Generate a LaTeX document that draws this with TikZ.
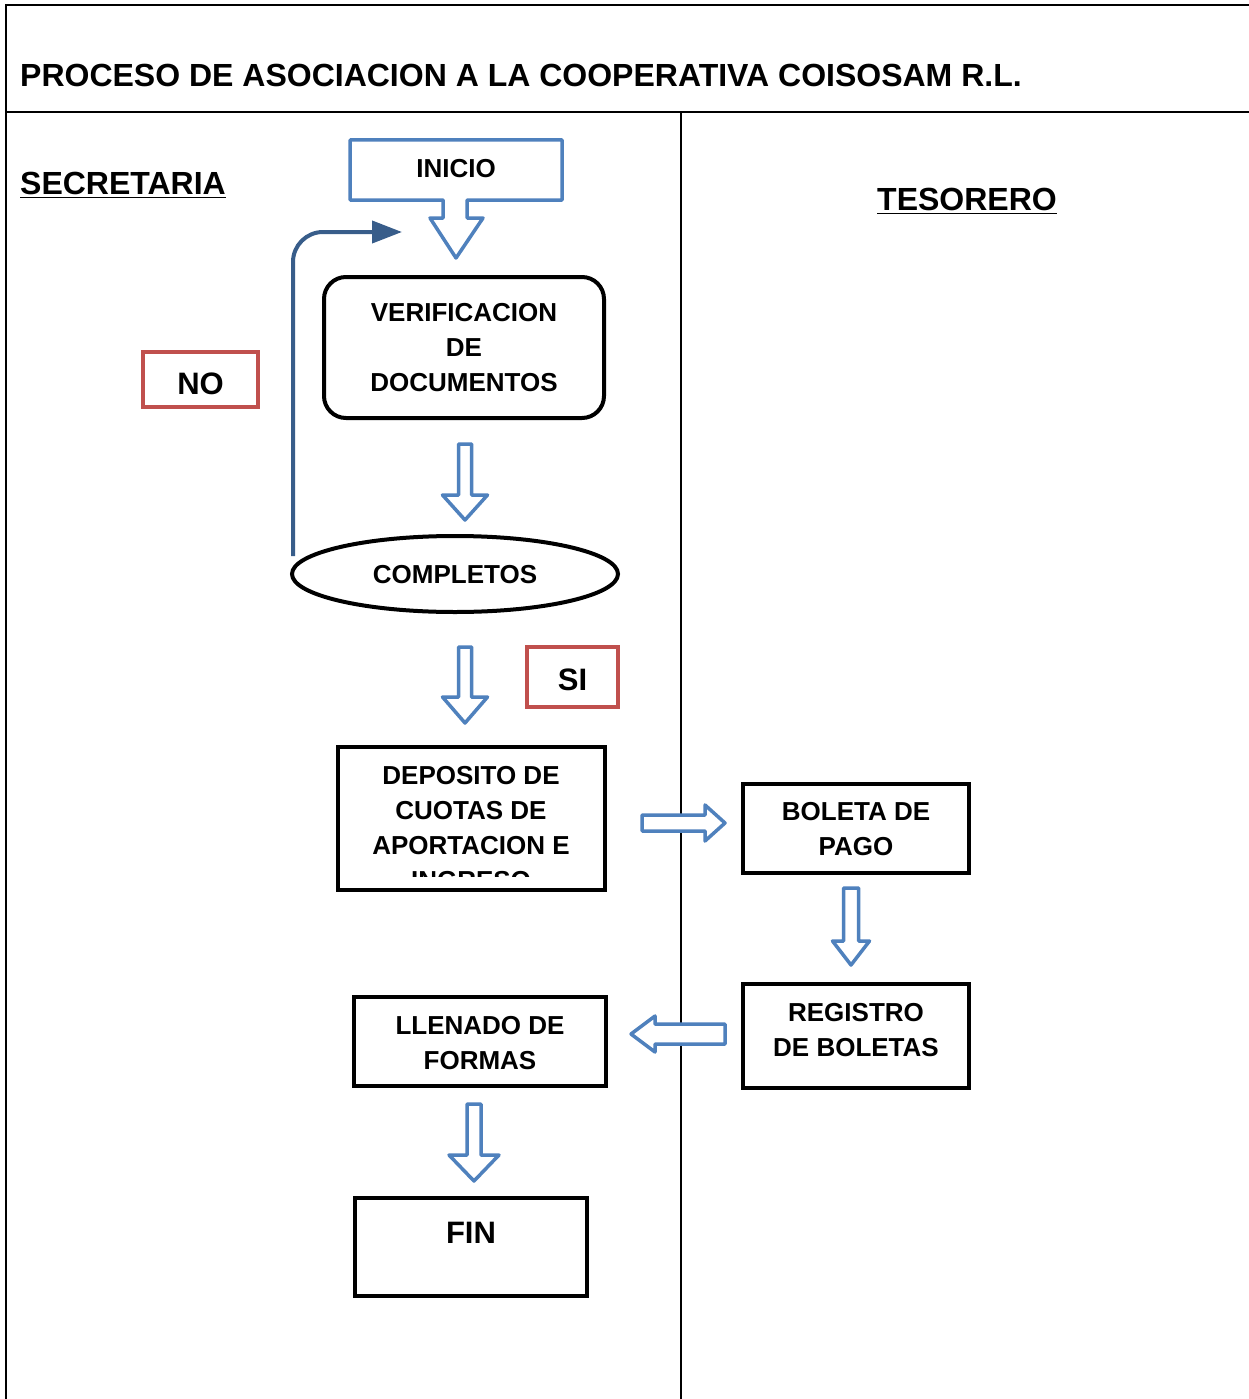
\documentclass[tikz,border=0pt]{standalone}
\usepackage{fontspec}
\setmainfont{Liberation Sans}
\usetikzlibrary{arrows.meta,shapes.geometric}
\definecolor{ablue}{HTML}{4F81BD}
\definecolor{dblue}{HTML}{385D8A}
\definecolor{lred}{HTML}{C0504D}
\newcommand{\bfont}{\fontsize{26}{35}\selectfont\bfseries}
\newcommand{\hfont}{\fontsize{32}{38}\selectfont\bfseries}
% hollow down block arrow: x, ytop, yheadstart, ytip, stemhalf, headhalf
\newcommand{\blkdown}[6]{%
  \draw[hollow] (#1-#5,#2) -- (#1+#5,#2) -- (#1+#5,#3) -- (#1+#6,#3) -- (#1,#4)
    -- (#1-#6,#3) -- (#1-#5,#3) -- cycle;}
% hollow horizontal block arrow: y, xtail, xheadstart, xtip, stemhalf, headhalf
\newcommand{\blkhor}[6]{%
  \draw[hollow] (#2,#1-#5) -- (#3,#1-#5) -- (#3,#1-#6) -- (#4,#1) -- (#3,#1+#6)
    -- (#3,#1+#5) -- (#2,#1+#5) -- cycle;}
\begin{document}
\begin{tikzpicture}[x=1pt,y=-1pt,
  hollow/.style={draw=ablue,fill=white,line width=3.5pt,line join=round},
  bbox/.style={draw=black,line width=4pt,inner sep=0pt},
  rbox/.style={draw=lred,line width=3.5pt,inner sep=0pt},
  lbl/.style={font=\bfont,align=center,inner sep=0pt},
  frame/.style={line width=2pt}]
\useasboundingbox (0,0) rectangle (1249,1399);
\fill[white] (0,0) rectangle (1249,1399);
% frame
\draw[frame] (1249,5) -- (6,5) -- (6,1399);
\draw[frame] (6,112) -- (1249,112);
\draw[frame] (681,112) -- (681,1399);
\node[anchor=base west,inner sep=0pt,font=\hfont] (title) at (20,87)
  {PROCESO DE ASOCIACION A LA COOPERATIVA COISOSAM R.L.};
\node[anchor=base west,inner sep=0pt,font=\hfont] (sec) at (20,195) {\underline{SECRETARIA}};
\node[anchor=base west,inner sep=0pt,font=\hfont] (tes) at (877,211) {\underline{TESORERO}};
% INICIO callout
\draw[hollow] (350,140) -- (562,140) -- (562,200) -- (467,200) -- (467,218) -- (483,218)
  -- (456,258) -- (430,218) -- (443,218) -- (443,200) -- (350,200) -- cycle;
\node[lbl] (inicio) at (456,169) {INICIO};
% verification
\node[bbox,rounded corners=22pt,minimum width=280,minimum height=141] (ver) at (464,347.5) {};
\node[lbl] (vert) at (464,348) {VERIFICACION\\DE\\DOCUMENTOS};
\blkdown{465}{444}{495}{520}{6.5}{22.5}
% completos
\node[bbox,ellipse,minimum width=326,minimum height=76] (comp) at (455,574) {};
\node[lbl] (compt) at (455,575) {COMPLETOS};
% loop back
\coordinate (loopend) at (402,232);
\draw[dblue,line width=4pt,rounded corners=30pt,-{Triangle[length=30pt,width=22pt]}]
  (293,556) -- (293,232) -- (loopend);
\node[rbox,minimum width=115,minimum height=55] (no) at (200.5,379.5) {};
\node[inner sep=0pt,font=\fontsize{31}{36}\selectfont\bfseries] (not) at (200.5,384) {NO};
\blkdown{465}{647}{697}{723}{6.5}{22.5}
\node[rbox,minimum width=91,minimum height=60] (si) at (572.5,677) {};
\node[inner sep=0pt,font=\fontsize{31}{36}\selectfont\bfseries] (sit) at (572.5,680) {SI};
% deposito
\begin{scope}
\clip (338,747) rectangle (605,876);
\node[lbl] (dept) at (471,828.5) {DEPOSITO DE\\CUOTAS DE\\APORTACION E\\INGRESO};
\end{scope}
\node[bbox,minimum width=267,minimum height=143] (dep) at (471.5,818.5) {};
\blkhor{823}{642}{705}{725}{8}{18}
% boleta
\node[bbox,minimum width=226,minimum height=89] (bol) at (856,828.5) {};
\node[lbl] (bolt) at (856,829.5) {BOLETA DE\\PAGO};
\blkdown{851}{888}{941}{965}{7.5}{18.5}
% registro
\node[bbox,minimum width=226,minimum height=104] (reg) at (856,1036) {};
\node[lbl] (regt) at (856,1030.5) {REGISTRO\\DE BOLETAS};
\blkhor{1034}{725}{655}{631}{10}{18}
% llenado
\node[bbox,minimum width=252,minimum height=89] (lle) at (480,1041.5) {};
\node[lbl] (llet) at (480,1043.5) {LLENADO DE\\FORMAS};
\blkdown{474}{1104}{1155}{1181}{7}{25}
% fin
\node[bbox,minimum width=232,minimum height=98] (fin) at (471,1247) {};
\node[inner sep=0pt,font=\fontsize{31}{36}\selectfont\bfseries] (fint) at (471,1233) {FIN};
\end{tikzpicture}
\end{document}
